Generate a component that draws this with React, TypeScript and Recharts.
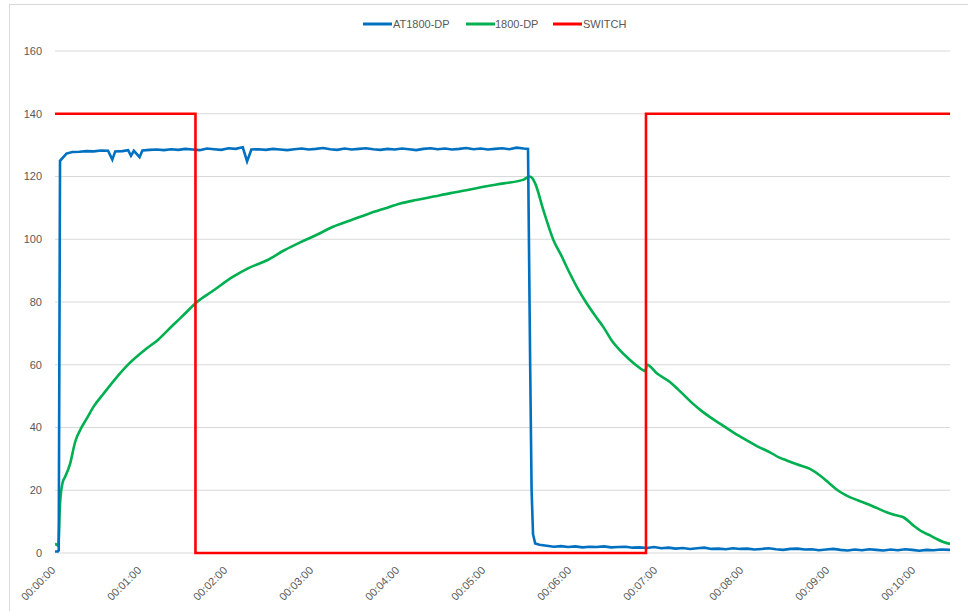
import React from "react";
import { LineChart, Line, XAxis, YAxis, CartesianGrid } from "recharts";

// Time in seconds
const blueT = [0, 2, 2.6, 3.5, 8, 12, 17, 22, 27, 32, 37, 40, 42, 47, 51, 53, 55, 59, 61, 66, 71, 76, 81, 86, 91, 96, 101, 106, 111, 116, 121, 126, 131, 134, 137, 142, 147, 152, 157, 162, 167, 172, 177, 182, 187, 192, 197, 202, 207, 212, 217, 222, 227, 232, 237, 242, 247, 252, 257, 262, 267, 272, 277, 282, 287, 292, 297, 302, 307, 312, 317, 322, 327, 330, 331.5, 332.5, 333.5, 335, 338, 343, 348, 353, 358, 363, 368, 373, 378, 383, 388, 393, 398, 403, 408, 413, 418, 423, 428, 433, 438, 443, 448, 453, 458, 463, 468, 473, 478, 483, 488, 493, 498, 503, 508, 513, 518, 523, 528, 533, 538, 543, 548, 553, 558, 563, 568, 573, 578, 583, 588, 593, 598, 603, 608, 613, 618, 624.4];
const blueV = [0.5, 0.5, 0.8, 125, 127.3, 127.8, 127.9, 128.1, 128.0, 128.3, 128.2, 125.4, 128.0, 128.1, 128.4, 126.6, 128.2, 126.2, 128.3, 128.5, 128.6, 128.4, 128.7, 128.5, 128.8, 128.6, 128.4, 128.9, 128.7, 128.5, 129.0, 128.8, 129.3, 124.8, 128.6, 128.7, 128.5, 128.8, 128.6, 128.4, 128.7, 128.9, 128.6, 128.8, 129.1, 128.7, 128.5, 128.9, 128.6, 128.8, 129.0, 128.7, 128.5, 128.8, 128.6, 128.9, 128.7, 128.4, 128.8, 129.0, 128.7, 128.9, 128.6, 128.8, 129.1, 128.7, 128.9, 128.6, 128.8, 129.0, 128.7, 129.2, 128.9, 128.8, 60, 20, 6, 3, 2.6, 2.3, 2.0, 2.2, 1.9, 2.1, 1.8, 2.0, 1.9, 2.1, 1.8, 1.9, 2.0, 1.7, 1.8, 1.6, 1.9, 1.5, 1.7, 1.4, 1.6, 1.3, 1.5, 1.7, 1.3, 1.4, 1.2, 1.5, 1.3, 1.4, 1.1, 1.3, 1.5, 1.2, 1.0, 1.3, 1.4, 1.1, 1.2, 0.9, 1.1, 1.3, 1.0, 0.8, 1.1, 0.9, 1.2, 1.0, 0.8, 1.1, 0.9, 1.2, 1.0, 0.7, 1.0, 0.9, 1.1, 1.0];

const greenT = [0, 2.3, 3.5, 5.4, 7, 10.5, 14, 18.6, 22.1, 26.7, 33.7, 43, 52, 62, 72, 82, 90, 99, 110, 124, 135, 148, 160, 171, 183, 194, 206, 218, 230, 241, 252, 264, 276, 287, 300, 313, 327, 331, 333, 335, 340.7, 347.7, 353, 359.3, 365, 371, 377, 382.6, 388, 394.2, 400, 405, 410.5, 411.8, 413, 420, 429, 435, 440.7, 445, 451, 457, 466, 474, 482.6, 490, 498.8, 505, 510.5, 518, 526.7, 533.7, 540.7, 546, 552.3, 560, 566.3, 573, 580.2, 586, 591.9, 598.8, 605, 610.5, 615, 619.8, 624.4];
const greenV = [3.0, 2.4, 15.7, 22.6, 24.2, 28.4, 35.3, 40.1, 42.8, 46.5, 50.7, 56, 60.5, 64.5, 68, 72.5, 76, 80, 83.5, 88, 90.8, 93.3, 96.5, 99, 101.5, 104, 106, 108, 109.8, 111.4, 112.5, 113.6, 114.7, 115.6, 116.8, 117.8, 119, 120, 119.5, 117.8, 109.3, 99.8, 95, 89, 84, 79.5, 75.5, 72, 68, 64.6, 62, 60, 58.2, 58.0, 60, 57.2, 54.5, 52, 49.5, 47.6, 45.3, 43.3, 40.6, 38.2, 35.9, 34, 32.1, 30.5, 29.5, 28.2, 26.8, 24.7, 22, 20, 18.3, 16.8, 15.7, 14.4, 13, 12.1, 11.4, 8.8, 6.8, 5.6, 4.5, 3.5, 2.9];

const redT = [0, 98, 98, 412.3, 412.3, 624.4];
const redV = [140, 140, 0, 0, 140, 140];

const xTicks = [0, 60, 120, 180, 240, 300, 360, 420, 480, 540, 600];
const yTicks = [0, 20, 40, 60, 80, 100, 120, 140, 160];

const seriesNames = ["AT1800-DP", "1800-DP", "SWITCH"];
const seriesColors = ["#0070C0", "#00B050", "#FF0000"];

const zip = (ts: number[], vs: number[]) => ts.map((t, i) => ({ t, v: vs[i] }));
const blueData = zip(blueT, blueV);
const greenData = zip(greenT, greenV);
const redData = zip(redT, redV);

const pad = (n: number) => (n < 10 ? "0" + n : "" + n);
const fmtTime = (s: number) => {
  const m = Math.floor(s / 60);
  const sec = Math.round(s - m * 60);
  return `00:${pad(m)}:${pad(sec)}`;
};

const FONT = "'Liberation Sans', Arial, sans-serif";

const XTick = (props: any) => {
  const { x, y, payload } = props;
  const ax = x + 1;
  const ay = y + 10;
  return (
    <text
      x={ax}
      y={ay}
      textAnchor="end"
      fill="#595959"
      fontSize={11}
      fontFamily={FONT}
      transform={`rotate(-45 ${ax} ${ay})`}
    >
      {fmtTime(payload.value)}
    </text>
  );
};

const legendPos = [
  { lx: 363, tx: 393 },
  { lx: 466, tx: 495 },
  { lx: 553, tx: 583 },
];

export default function App() {
  return (
    <div style={{ position: "absolute", left: 0, top: 0, width: 968, height: 611, background: "#fff", overflow: "hidden" }}>
      <div
        style={{
          position: "absolute",
          left: 9,
          top: 4,
          right: -2,
          bottom: -2,
          borderLeft: "1px solid #d9d9d9",
          borderTop: "1px solid #d9d9d9",
        }}
      />
      <div style={{ position: "absolute", left: 0, top: 0 }}>
        <LineChart width={968} height={611} margin={{ top: 51, right: 18, left: 0, bottom: 0 }}>
          <CartesianGrid vertical={false} stroke="#d9d9d9" strokeWidth={1} />
          <XAxis
            type="number"
            dataKey="t"
            domain={[0, 624.4]}
            ticks={xTicks}
            allowDataOverflow
            axisLine={false}
            tickLine={false}
            height={58}
            interval={0}
            tick={<XTick />}
          />
          <YAxis
            type="number"
            domain={[0, 160]}
            ticks={yTicks}
            width={55}
            axisLine={false}
            tickLine={false}
            tickMargin={7}
            tick={{ fill: "#595959", fontSize: 11, fontFamily: FONT }}
          />
          <Line type="monotone" data={greenData} dataKey="v" name={seriesNames[1]} stroke={seriesColors[1]} strokeWidth={2.6} dot={false} isAnimationActive={false} />
          <Line data={blueData} dataKey="v" name={seriesNames[0]} stroke={seriesColors[0]} strokeWidth={2.6} dot={false} isAnimationActive={false} />
          <Line data={redData} dataKey="v" name={seriesNames[2]} stroke={seriesColors[2]} strokeWidth={2.6} dot={false} isAnimationActive={false} />
        </LineChart>
      </div>
      <svg style={{ position: "absolute", left: 0, top: 0 }} width={968} height={40}>
        {seriesNames.map((n, i) => (
          <g key={n}>
            <line x1={legendPos[i].lx} x2={legendPos[i].lx + 29} y1={24} y2={24} stroke={seriesColors[i]} strokeWidth={3} />
            <text x={legendPos[i].tx} y={27.5} fill="#595959" fontSize={11} fontFamily={FONT}>
              {n}
            </text>
          </g>
        ))}
      </svg>
    </div>
  );
}
